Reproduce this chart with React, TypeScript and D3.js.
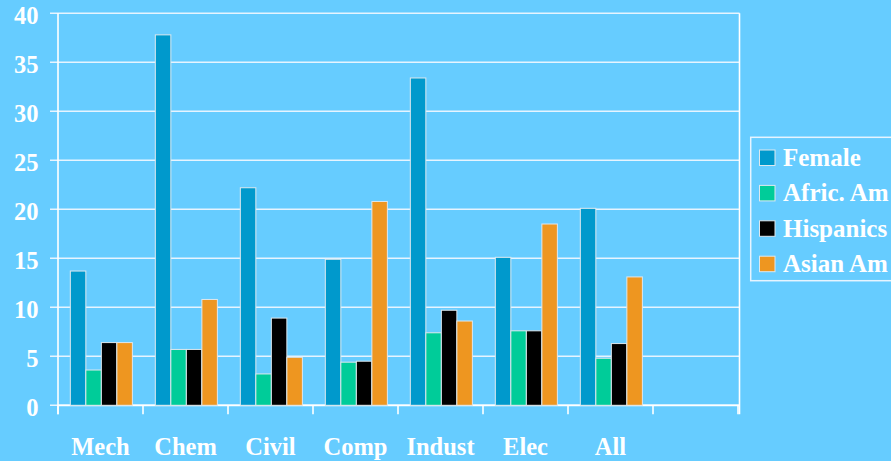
import React from "react";
import * as d3 from "d3";

const categories = ["Mech", "Chem", "Civil", "Comp", "Indust", "Elec", "All", ""];
const seriesNames = ["Female", "Afric. Am", "Hispanics", "Asian Am"];
const female = [13.7, 37.8, 22.2, 14.9, 33.4, 15.1, 20.1];
const africAm = [3.6, 5.7, 3.2, 4.4, 7.4, 7.6, 4.8];
const hispanics = [6.4, 5.7, 8.9, 4.5, 9.7, 7.6, 6.3];
const asianAm = [6.4, 10.8, 4.9, 20.8, 8.6, 18.5, 13.1];
const yTicks = [0, 5, 10, 15, 20, 25, 30, 35, 40];
const colors = ["#0099CC", "#00CC99", "#000000", "#EE9620"];

const W = 891;
const H = 461;
const left = 58;
const right = 738;
const top = 13.3;
const bottom = 405.3;
const font = "'Liberation Serif', 'Times New Roman', serif";

export default function App() {
  const series = [female, africAm, hispanics, asianAm];
  const keys = categories.map((c, i) => c + i);
  const x = d3.scaleBand<string>().domain(keys).range([left, right]).padding(0);
  const bw = x.bandwidth();
  const x1 = d3.scaleBand<string>().domain(seriesNames).range([bw * 0.145, bw * 0.875]).padding(0);
  const y = d3.scaleLinear().domain([0, 40]).range([bottom, top]);
  const boundaries = d3.range(categories.length + 1).map((i) => left + i * bw);

  return (
    <svg width={W} height={H} style={{ position: "absolute", left: 0, top: 0, background: "#66CCFF" }} fontFamily={font}>
      <rect x={0} y={0} width={W} height={H} fill="#66CCFF" />
      {yTicks.map((t) => (
        <g key={t}>
          <line x1={left - 8} x2={right + 1.5} y1={y(t)} y2={y(t)} stroke="#E6F4FF" strokeWidth={1.6} />
          <text x={38.5} y={y(t) + 10.8} textAnchor="end" fontSize={24.5} fontWeight="bold" fill="#FFFFFF">{t}</text>
        </g>
      ))}
      <line x1={left} x2={left} y1={top} y2={bottom + 9} stroke="#FFFFFF" strokeWidth={1.6} />
      <line x1={right + 1.5} x2={right + 1.5} y1={top} y2={bottom + 9} stroke="#FFFFFF" strokeWidth={1.6} />
      {boundaries.map((b, i) => (
        <line key={i} x1={b} x2={b} y1={bottom} y2={bottom + 9} stroke="#FFFFFF" strokeWidth={1.6} />
      ))}
      <line x1={left} x2={right + 1.5} y1={bottom} y2={bottom} stroke="#FFFFFF" strokeWidth={1.8} />
      {keys.map((k, ci) =>
        seriesNames.map((s, si) => {
          const v = series[si][ci];
          if (v === undefined) return null;
          return (
            <rect
              key={k + s}
              x={(x(k) as number) + (x1(s) as number)}
              y={y(v)}
              width={x1.bandwidth()}
              height={bottom - y(v)}
              fill={colors[si]}
              stroke="#DDE8EE"
              strokeWidth={1}
            />
          );
        })
      )}
      {keys.map((k, ci) => (
        <text key={k} x={(x(k) as number) + bw / 2} y={454.5} textAnchor="middle" fontSize={24.5} fontWeight="bold" fill="#FFFFFF">
          {categories[ci]}
        </text>
      ))}
      <rect x={750.7} y={137.3} width={145} height={143.4} fill="none" stroke="#E6F4FF" strokeWidth={1.5} />
      {seriesNames.map((s, i) => {
        const ty = 150 + i * 35.4;
        return (
          <g key={s}>
            <rect x={759.5} y={ty} width={15.5} height={15.5} fill={colors[i]} stroke="#DDE8EE" strokeWidth={1} />
            <text x={783} y={ty + 15.9} fontSize={25} fontWeight="bold" fill="#FFFFFF">{s}</text>
          </g>
        );
      })}
    </svg>
  );
}
